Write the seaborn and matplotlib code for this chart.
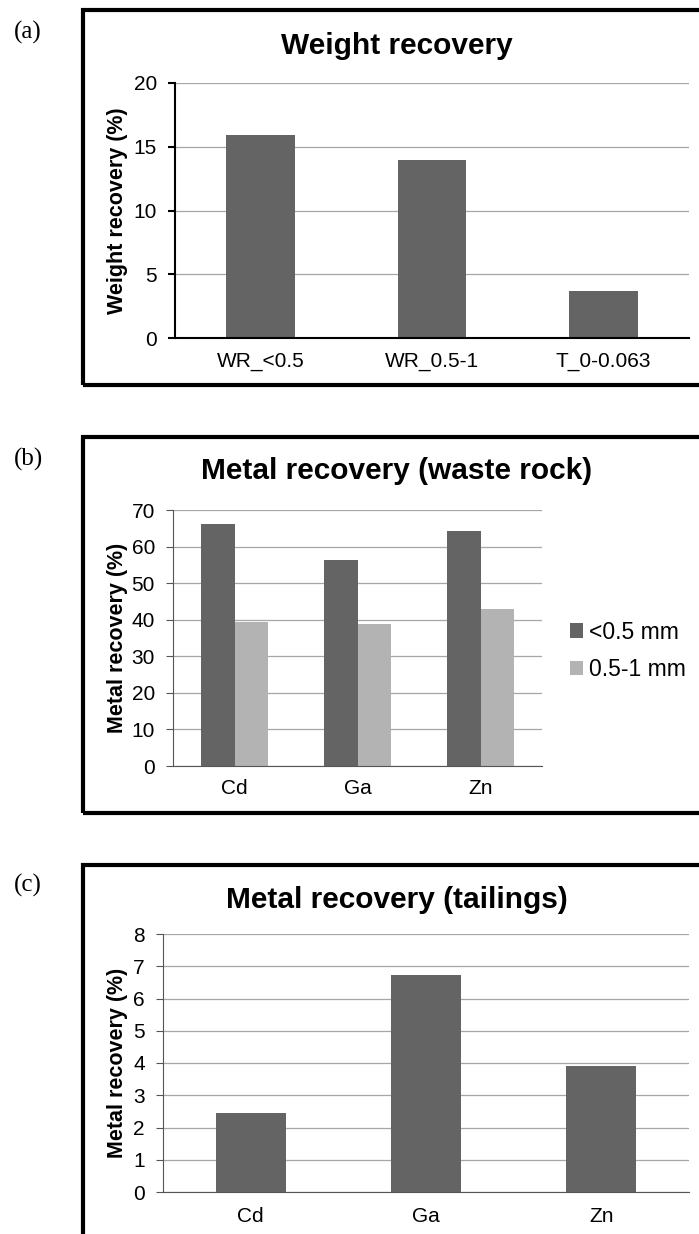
import matplotlib
matplotlib.use("Agg")
import matplotlib.pyplot as plt
from matplotlib.patches import Rectangle
import seaborn as sns
import pandas as pd

# DONNEES

wr_labels = ["WR_<0.5", "WR_0.5-1", "T_0-0.063"]
wr_values = [15.9, 14.0, 3.7]

metals = ["Cd", "Ga", "Zn"]
fractions = ["<0.5 mm", "0.5-1 mm"]
rock_fine = [66.3, 56.2, 64.3]
rock_coarse = [39.3, 38.8, 42.8]

tail_values = [2.45, 6.72, 3.9]

dark = "#646464"
light = "#b3b3b3"

# STYLE

sns.set_style("white")
plt.rcParams["font.family"] = ["Liberation Sans", "DejaVu Sans"]
# texte noir (seaborn met du gris fonce par defaut)
plt.rcParams["text.color"] = "black"
plt.rcParams["axes.labelcolor"] = "black"
plt.rcParams["xtick.color"] = "black"
plt.rcParams["ytick.color"] = "black"

W, H = 699, 1234
fig = plt.figure(figsize=(W / 100, H / 100), dpi=100)


def px_axes(left, top, right, bottom):
    # positions en pixels -> fraction de figure
    return fig.add_axes([left / W, 1 - bottom / H, (right - left) / W, (bottom - top) / H])


def frame(top, bottom, label, label_y):
    # cadre noir epais autour du graphique
    fig.patches.append(Rectangle((83 / W, 1 - bottom / H), (720 - 83) / W, (bottom - top) / H,
                                 transform=fig.transFigure, fill=False, lw=3, ec="black"))
    fig.text(14 / W, 1 - label_y / H, label, family=["Liberation Serif", "DejaVu Serif"],
             fontsize=18, ha="left", va="center")


def style_axes(ax, left, right, top, bottom, spine_col, spine_lw, ymax, ystep,
               title, title_y, ylabel, pad_x):
    ax.set_xlim(-0.5, 2.5)
    ax.set_ylim(0, ymax)
    ax.set_yticks(range(0, ymax + 1, ystep))
    ax.set_axisbelow(True)
    ax.yaxis.grid(True, color="#a6a6a6", lw=0.9)
    ax.xaxis.grid(False)
    sns.despine(ax=ax)
    for s in ["left", "bottom"]:
        ax.spines[s].set_color(spine_col)
        ax.spines[s].set_linewidth(spine_lw)
    ax.set_xticks([-0.5, 0.5, 1.5, 2.5], minor=True)
    ax.tick_params(axis="x", which="major", length=0, pad=pad_x, labelsize=15, labelcolor="black")
    ax.tick_params(axis="x", which="minor", length=5, width=spine_lw, color=spine_col, direction="out")
    ax.tick_params(axis="y", length=5, width=spine_lw, color=spine_col, pad=8, labelsize=15,
                   labelcolor="black", left=True, direction="out")
    ax.set_xlabel("")
    ax.set_ylabel(ylabel, fontsize=15.5, fontweight="bold", color="black")
    ax.yaxis.label.set(ha="center", va="center")
    ax.yaxis.set_label_coords((117 - left) / (right - left), 0.5)
    # titre centre sur le cadre, pas sur les axes
    ax.set_title(title, fontsize=21.5, fontweight="bold", va="center", pad=0, color="black",
                 x=(397 - left) / (right - left), y=1 + (top - title_y) / (bottom - top))


# (a) WEIGHT RECOVERY

frame(10, 385, "(a)", 32)
ax1 = px_axes(175, 83, 689, 338)
df_a = pd.DataFrame({"cat": wr_labels, "val": wr_values})
sns.barplot(data=df_a, x="cat", y="val", color=dark, width=0.4, saturation=1,
            errorbar=None, linewidth=0, ax=ax1)
style_axes(ax1, 175, 689, 83, 338, "black", 1.5, 20, 5, "Weight recovery", 46,
           "Weight recovery (%)", 10)

# (b) METAL RECOVERY WASTE ROCK

frame(437, 813, "(b)", 459)
ax2 = px_axes(173, 510, 542, 766)
df_b = pd.DataFrame({
    "metal": metals * 2,
    "fraction": [fractions[0]] * 3 + [fractions[1]] * 3,
    "val": rock_fine + rock_coarse,
})
sns.barplot(data=df_b, x="metal", y="val", hue="fraction", hue_order=fractions,
            palette=[dark, light], width=0.55, saturation=1, errorbar=None,
            linewidth=0, ax=ax2)
style_axes(ax2, 173, 542, 510, 766, "#555555", 0.8, 70, 10, "Metal recovery (waste rock)", 471,
           "Metal recovery (%)", 9)
ax2.legend(loc="center left", bbox_to_anchor=(570 / W, 1 - 651 / H),
           bbox_transform=fig.transFigure, frameon=False, fontsize=16.5,
           handlelength=0.57, handleheight=0.57, handletextpad=0.25,
           labelspacing=0.65, borderpad=0, borderaxespad=0)

# (c) METAL RECOVERY TAILINGS

frame(865, 1260, "(c)", 885)
ax3 = px_axes(163, 934, 689, 1192)
df_c = pd.DataFrame({"metal": metals, "val": tail_values})
sns.barplot(data=df_c, x="metal", y="val", color=dark, width=0.4, saturation=1,
            errorbar=None, linewidth=0, ax=ax3)
style_axes(ax3, 163, 689, 934, 1192, "#555555", 0.8, 8, 1, "Metal recovery (tailings)", 900,
           "Metal recovery (%)", 10.5)

fig.savefig("out.png", dpi=100)
